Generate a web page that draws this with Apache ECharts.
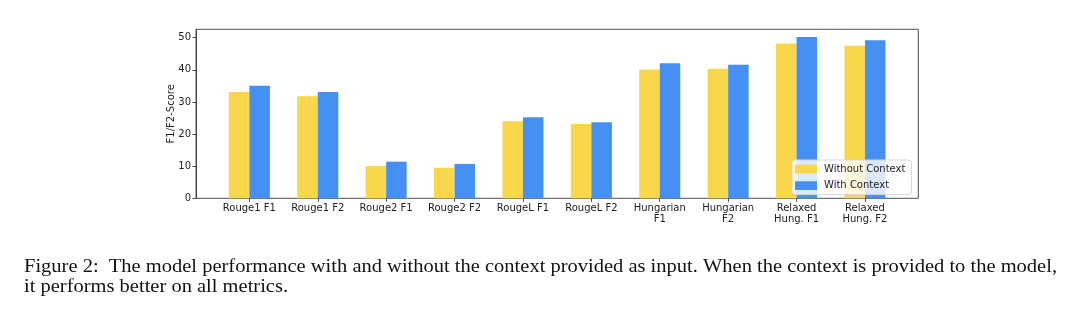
<!DOCTYPE html>
<html>
<head>
<meta charset="utf-8">
<script src="https://cdn.jsdelivr.net/npm/echarts@6/dist/echarts.min.js"></script>
<style>
  html, body { margin: 0; padding: 0; background: #fff; }
  #chart { width: 1080px; height: 323px; }
</style>
</head>
<body>
<div id="chart"></div>
<script>
// Metrics on the x axis (two-line labels where the name is long)
const categories = [
  'Rouge1 F1', 'Rouge1 F2', 'Rouge2 F1', 'Rouge2 F2', 'RougeL F1',
  'RougeL F2', 'Hungarian\nF1', 'Hungarian\nF2', 'Relaxed\nHung. F1', 'Relaxed\nHung. F2'
];
const seriesNames = ['Without Context', 'With Context'];
const withoutContext = [33.1, 31.8, 10.1, 9.5, 24.0, 23.1, 40.1, 40.3, 48.2, 47.5];
const withContext    = [35.0, 33.1, 11.4, 10.7, 25.2, 23.7, 42.0, 41.6, 50.2, 49.2];
const yTicks = [0, 10, 20, 30, 40, 50];
const yMax = 52.6;
const captionLines = [
  'Figure 2:  The model performance with and without the context provided as input. When the context is provided to the model,',
  'it performs better on all metrics.'
];

const COLORS = ['#F8D74A', '#4690F3'];
const FONT = 'DejaVu Sans';
const AXIS = '#3a3a3a';

// plot frame (pixels)
const plotLeft = 196, plotRight = 918.3, plotTop = 29.3, plotBottom = 198.3;
// bars occupy the inner span, leaving matplotlib-style margins at both ends
const unit = (plotRight - plotLeft) / (categories.length + 0.56);
const innerLeft = plotLeft + 0.28 * unit;
const innerWidth = categories.length * unit;

// caption: first line spans the full text block width
const CAPTION_FONT = '18px "Liberation Serif", "Times New Roman", serif';
const captionLeft = 24, captionWidth = 1033;
const ctx = document.createElement('canvas').getContext('2d');
ctx.font = CAPTION_FONT;
const captionScale = captionWidth / ctx.measureText(captionLines[0]).width;

const chart = echarts.init(document.getElementById('chart'), null, { renderer: 'canvas' });

const option = {
  backgroundColor: '#fff',
  animation: false,
  textStyle: { fontFamily: FONT },
  legend: {
    data: seriesNames,
    orient: 'vertical',
    left: 792, top: 160,
    width: 121,
    icon: 'rect',
    itemWidth: 22, itemHeight: 8.7,
    itemGap: 6.6,
    padding: [4, 6, 4, 3],
    backgroundColor: 'rgba(255,255,255,0.8)',
    borderColor: '#d6d6d6', borderWidth: 1, borderRadius: 3,
    textStyle: { fontFamily: FONT, fontSize: 10, color: '#222', padding: [0, 0, 0, 2] }
  },
  grid: [
    { // frame with the y axis
      left: plotLeft, top: plotTop,
      width: plotRight - plotLeft, height: plotBottom - plotTop,
      show: true, borderColor: AXIS, borderWidth: 0.9, backgroundColor: 'transparent'
    },
    { // bars
      left: innerLeft, top: plotTop,
      width: innerWidth, height: plotBottom - plotTop
    }
  ],
  xAxis: [
    { gridIndex: 0, type: 'value', min: 0, max: 1, show: false },
    {
      gridIndex: 1, type: 'category', data: categories,
      axisLine: { show: false },
      axisTick: { show: true, alignWithLabel: true, length: 3.5, lineStyle: { color: AXIS, width: 0.9 } },
      axisLabel: { fontFamily: FONT, fontSize: 10, color: '#222', margin: 5, lineHeight: 11, interval: 0 }
    }
  ],
  yAxis: [
    {
      gridIndex: 0, type: 'value', min: 0, max: yMax,
      name: 'F1/F2-Score', nameLocation: 'middle', nameRotate: 90, nameGap: 20,
      nameMoveOverlap: false,
      nameTextStyle: { fontFamily: FONT, fontSize: 10, color: '#222' },
      axisLine: { show: true, lineStyle: { color: AXIS, width: 0.9 } },
      axisTick: { show: true, length: 3.5, customValues: yTicks, lineStyle: { color: AXIS, width: 0.9 } },
      axisLabel: { fontFamily: FONT, fontSize: 10, color: '#222', margin: 5, customValues: yTicks },
      splitLine: { show: false }
    },
    { gridIndex: 1, type: 'value', min: 0, max: yMax, show: false }
  ],
  series: [
    {
      name: seriesNames[0], type: 'bar', xAxisIndex: 1, yAxisIndex: 1,
      data: withoutContext, barWidth: 0.3 * unit, barGap: '0%',
      itemStyle: { color: COLORS[0] }
    },
    {
      name: seriesNames[1], type: 'bar', xAxisIndex: 1, yAxisIndex: 1,
      data: withContext, barWidth: 0.3 * unit, barGap: '0%',
      itemStyle: { color: COLORS[1] }
    }
  ],
  graphic: captionLines.map((line, i) => ({
    type: 'text',
    x: captionLeft,
    y: 258 + i * 20,
    scaleX: captionScale,
    style: {
      text: line,
      x: 0, y: 0,
      font: CAPTION_FONT,
      fill: '#111',
      verticalAlign: 'top'
    }
  }))
};

chart.setOption(option);
</script>
</body>
</html>
